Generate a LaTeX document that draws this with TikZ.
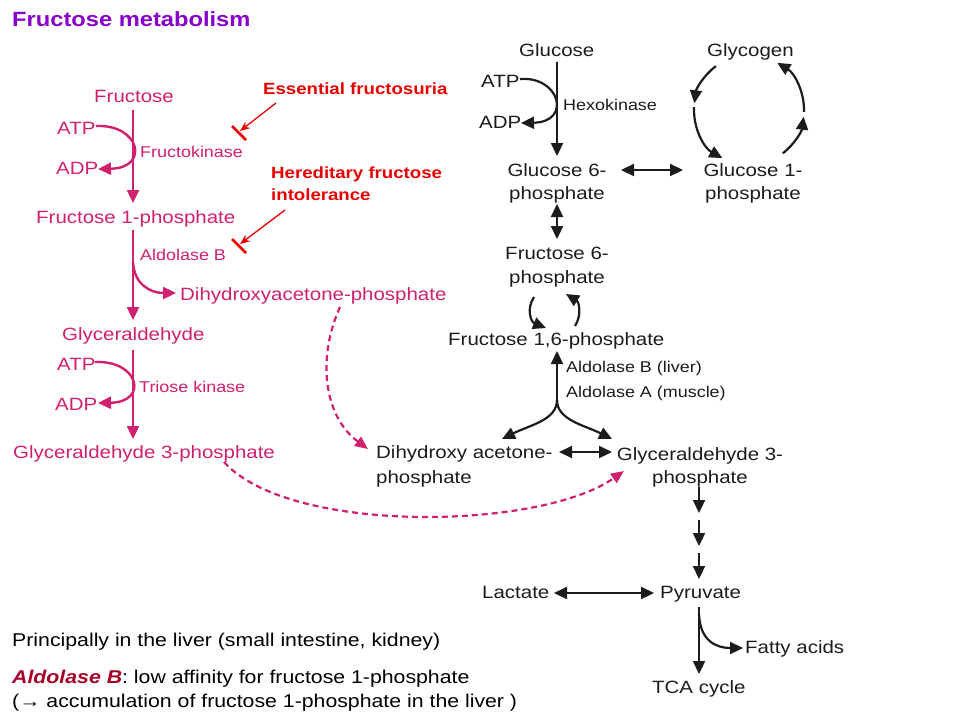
\documentclass[tikz,border=0pt]{standalone}
\usepackage{fontspec}
\setmainfont{Liberation Sans}[FakeStretch=1.15]
\usetikzlibrary{arrows.meta}
\definecolor{pk}{RGB}{208,32,110}
\definecolor{bk}{RGB}{28,28,28}
\definecolor{rd}{RGB}{232,0,0}
\definecolor{tl}{RGB}{136,0,204}
\definecolor{ab}{RGB}{165,0,40}
\begin{document}
\begin{tikzpicture}[x=1pt,y=-1pt,
  lbl/.style={anchor=base west, inner sep=0pt, font=\fontsize{17.8}{20}\selectfont},
  lblc/.style={lbl, anchor=base},
  small/.style={font=\fontsize{15.6}{18}\selectfont},
  ptxt/.style={text=pk},
  btxt/.style={text=bk},
  rtxt/.style={lbl, text=rd, font=\fontsize{16.2}{19}\selectfont\bfseries},
  note/.style={lbl, text=black, font=\fontsize{18.5}{21}\selectfont},
  parr/.style={draw=pk, line width=2.4pt, -{Triangle[length=13pt,width=12pt]}},
  pdash/.style={draw=pk, line width=2.2pt, dash pattern=on 6pt off 4pt, -{Triangle[length=13pt,width=11pt]}},
  barr/.style={draw=bk, line width=2.2pt, -{Triangle[length=13pt,width=12pt]}},
  bdbl/.style={draw=bk, line width=2.2pt, {Triangle[length=13pt,width=12pt]}-{Triangle[length=13pt,width=12pt]}},
  rarr/.style={draw=rd, line width=1.3pt, -{Stealth[length=10pt,width=8pt]}},
  rbar/.style={draw=rd, line width=2.8pt}
]
\useasboundingbox[fill=white] (0,0) rectangle (960,720);

% title
\node[lbl, text=tl, font=\fontsize{20.6}{24}\selectfont\bfseries] (title) at (12,27) {Fructose metabolism};

% ---------- pink fructose pathway ----------
\node[lbl,ptxt] (fru) at (94,102) {Fructose};
\node[lbl,ptxt] (atp1) at (57,134) {ATP};
\node[lbl,ptxt] (adp1) at (56,174) {ADP};
\node[lbl,ptxt,small] (fk) at (140,157) {Fructokinase};
\node[lbl,ptxt] (f1p) at (36,223) {Fructose 1-phosphate};
\node[lbl,ptxt,small] (aldb) at (140,260) {Aldolase B};
\node[lbl,ptxt] (dhap1) at (180,300) {Dihydroxyacetone-phosphate};
\node[lbl,ptxt] (gly) at (62,340) {Glyceraldehyde};
\node[lbl,ptxt] (atp2) at (57,370) {ATP};
\node[lbl,ptxt] (adp2) at (55,410) {ADP};
\node[lbl,ptxt,small] (tk) at (139,392) {Triose kinase};
\node[lbl,ptxt] (g3p1) at (13,458) {Glyceraldehyde 3-phosphate};

\coordinate (p1a) at (133,110); \coordinate (p1b) at (133,203);
\coordinate (p2a) at (133,230); \coordinate (p2b) at (133,320);
\coordinate (p3a) at (133,350); \coordinate (p3b) at (133,439);
\draw[parr] (p1a) -- (p1b);
\draw[parr] (p2a) -- (p2b);
\draw[parr] (p3a) -- (p3b);
\coordinate (atp1e) at (96,126); \coordinate (adp1e) at (98,169);
\draw[parr] (atp1e) .. controls (140,124) and (150,168) .. (adp1e);
\coordinate (atp2e) at (95,362); \coordinate (adp2e) at (98,403);
\draw[parr] (atp2e) .. controls (139,360) and (149,402) .. (adp2e);
\coordinate (brs) at (133,262); \coordinate (bre) at (176,293);
\draw[parr] (brs) .. controls (134,284) and (150,293) .. (bre);

% dashed connections
\coordinate (d1s) at (340,307); \coordinate (d1e) at (368,449);
\draw[pdash] (d1s) .. controls (318,355) and (322,415) .. (d1e);
\coordinate (d2s) at (224,462); \coordinate (d2e) at (624,471);
\draw[pdash] (d2s) .. controls (290,535) and (540,530) .. (d2e);

% ---------- red defects ----------
\node[rtxt] (ef) at (263,94) {Essential fructosuria};
\node[rtxt] (hfi) at (271,178) {Hereditary fructose};
\node[rtxt] (hfi2) at (271,200) {intolerance};
\coordinate (r1s) at (276,103); \coordinate (r1e) at (240,131);
\coordinate (b1a) at (232,126); \coordinate (b1b) at (246,140);
\draw[rarr] (r1s) -- (r1e);
\draw[rbar] (b1a) -- (b1b);
\coordinate (r2s) at (285,210); \coordinate (r2e) at (240,244);
\coordinate (b2a) at (232,239); \coordinate (b2b) at (246,253);
\draw[rarr] (r2s) -- (r2e);
\draw[rbar] (b2a) -- (b2b);

% ---------- black glycolysis ----------
\node[lbl,btxt] (glc) at (519,56) {Glucose};
\node[lbl,btxt] (atp3) at (481,87) {ATP};
\node[lbl,btxt] (adp3) at (479,128) {ADP};
\node[lbl,btxt,small] (hk) at (563,110) {Hexokinase};
\node[lbl,btxt] (glyc) at (707,56) {Glycogen};
\node[lblc,btxt] (g6p) at (557,176) {Glucose 6-};
\node[lblc,btxt] (g6pb) at (557,199) {phosphate};
\node[lblc,btxt] (g1p) at (753,176) {Glucose 1-};
\node[lblc,btxt] (g1pb) at (753,199) {phosphate};
\node[lblc,btxt] (f6p) at (557,259) {Fructose 6-};
\node[lblc,btxt] (f6pb) at (557,283) {phosphate};
\node[lbl,btxt] (fbp) at (448,345) {Fructose 1,6-phosphate};
\node[lbl,btxt,small] (alb) at (566,372) {Aldolase B (liver)};
\node[lbl,btxt,small] (ala) at (566,397) {Aldolase A (muscle)};
\node[lbl,btxt] (dhap) at (376,458) {Dihydroxy acetone-};
\node[lbl,btxt] (dhapb) at (376,483) {phosphate};
\node[lblc,btxt] (g3p) at (700,460) {Glyceraldehyde 3-};
\node[lblc,btxt] (g3pb) at (700,483) {phosphate};
\node[lbl,btxt] (lac) at (482,598) {Lactate};
\node[lbl,btxt] (pyr) at (660,598) {Pyruvate};
\node[lbl,btxt] (fa) at (745,653) {Fatty acids};
\node[lbl,btxt] (tca) at (652,693) {TCA cycle};

\coordinate (k1a) at (557,62); \coordinate (k1b) at (557,156);
\draw[barr] (k1a) -- (k1b);
\coordinate (atp3e) at (520,79); \coordinate (adp3e) at (521,123);
\draw[barr] (atp3e) .. controls (560,76) and (572,122) .. (adp3e);
\coordinate (gg1) at (621,170); \coordinate (gg2) at (683,170);
\draw[bdbl] (gg1) -- (gg2);
\coordinate (gf1) at (557,204); \coordinate (gf2) at (557,239);
\draw[bdbl] (gf1) -- (gf2);
% glycogen cycle
\coordinate (cyc) at (749,110);
\draw[barr] ([shift={(233:55)}]cyc) arc[start angle=233, end angle=187, radius=55];
\draw[barr] ([shift={(183:55)}]cyc) arc[start angle=183, end angle=119, radius=55];
\draw[barr] ([shift={(52:55)}]cyc) arc[start angle=52, end angle=7, radius=55];
\draw[barr] ([shift={(2:55)}]cyc) arc[start angle=2, end angle=-59, radius=55];
% F6P <-> F1,6BP
\coordinate (sa1) at (534,297); \coordinate (sa2) at (546,328);
\draw[barr] (sa1) .. controls (526,309) and (531,322) .. (sa2);
\coordinate (sb1) at (575,326); \coordinate (sb2) at (566,294);
\draw[barr] (sb1) .. controls (582,315) and (579,302) .. (sb2);
% aldolase split
\coordinate (jn) at (557,400); \coordinate (jup) at (557,351);
\draw[barr] (jn) -- (jup);
\coordinate (jl) at (502,439); \coordinate (jr) at (612,439);
\draw[barr] (jn) .. controls (557,420) and (530,425) .. (jl);
\draw[barr] (jn) .. controls (557,420) and (584,425) .. (jr);
\coordinate (dg1) at (559,452); \coordinate (dg2) at (612,452);
\draw[bdbl] (dg1) -- (dg2);
% lower glycolysis
\coordinate (s1a) at (699,487); \coordinate (s1b) at (699,513);
\coordinate (s2a) at (699,520); \coordinate (s2b) at (699,546);
\coordinate (s3a) at (699,553); \coordinate (s3b) at (699,579);
\draw[barr] (s1a) -- (s1b);
\draw[barr] (s2a) -- (s2b);
\draw[barr] (s3a) -- (s3b);
\coordinate (lp1) at (554,593); \coordinate (lp2) at (654,593);
\draw[bdbl] (lp1) -- (lp2);
\coordinate (pt1) at (699,607); \coordinate (pt2) at (699,674);
\draw[barr] (pt1) -- (pt2);
\coordinate (pf1) at (699,614); \coordinate (pf2) at (743,648);
\draw[barr] (pf1) .. controls (700,640) and (715,648) .. (pf2);

% ---------- notes ----------
\node[note] (n1) at (12,646) {Principally in the liver (small intestine, kidney)};
\node[note] (n2) at (12,683) {{\bfseries\itshape\color{ab}Aldolase B}: low affinity for fructose 1-phosphate};
\node[note] (n3) at (12,707) {(→ accumulation of fructose 1-phosphate in the liver )};
\end{tikzpicture}
\end{document}
